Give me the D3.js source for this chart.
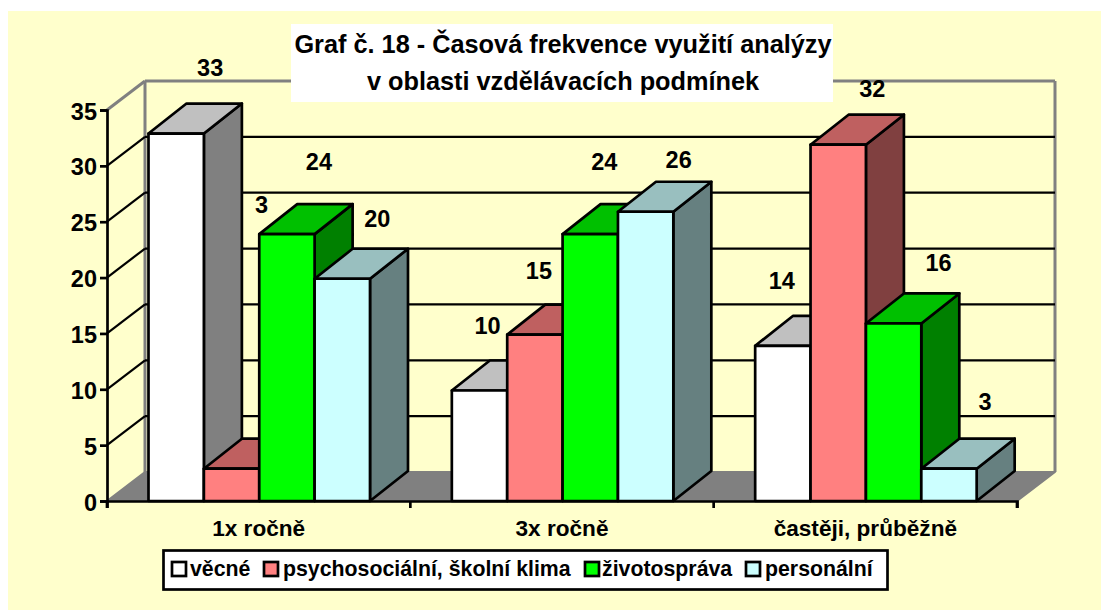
<!DOCTYPE html>
<html><head><meta charset="utf-8">
<script src="https://cdn.jsdelivr.net/npm/d3@7"></script>
<style>html,body{margin:0;padding:0;background:#fff}svg{display:block}text{font-family:"Liberation Sans",Arial,sans-serif;font-weight:bold;fill:#000}</style>
</head><body><svg id="c" width="1101" height="610"></svg>
<script>
const categories = ["1x ročně", "3x ročně", "častěji, průběžně"];
const seriesNames = ["věcné", "psychosociální, školní klima", "životospráva", "personální"];
const vecne = [33, 10, 14];
const psychosocialni = [3, 15, 32];
const zivotosprava = [24, 24, 16];
const personalni = [20, 26, 3];
const seriesValues = [vecne, psychosocialni, zivotosprava, personalni];
const yTicks = [0, 5, 10, 15, 20, 25, 30, 35];
const titleLines = ["Graf č. 18 - Časová frekvence využití analýzy", "v oblasti vzdělávacích podmínek"];

// styling
const faceColors = [
  {front:"#ffffff", top:"#c0c0c0", side:"#808080"},
  {front:"#ff8080", top:"#bf6060", side:"#804040"},
  {front:"#00ff00", top:"#00c000", side:"#008000"},
  {front:"#ccffff", top:"#99bfbf", side:"#668080"}
];
// hand-placed data label centres in the source: offset from the bar's front-top-centre
const labelNudge = [
  [[34,-64],[30,-262],[32,-71],[35,-59]],
  [[8,-63],[4,-62],[14,-71],[33,-51]],
  [[-1,-64],[34,-55],[45,-59],[36,-65]]
];

const svg = d3.select("#c");
const X0=107, X1=1017, Y0=501, Y35=110, DX=38, DY=-29, BAR_DY=-30;
const y = d3.scaleLinear().domain([0,35]).range([Y0,Y35]);
const x = d3.scaleBand().domain(categories).range([X0,X1]);
const barInner = d3.scaleBand().domain(d3.range(4)).range([41.5,263]);

const poly = (pts,fill,stroke,sw)=>svg.append("polygon").attr("points",pts.map(p=>p.join(",")).join(" "))
  .attr("fill",fill).attr("stroke",stroke||"none").attr("stroke-width",sw||0).attr("stroke-linejoin","round");
const line = (a,b,c,sw)=>svg.append("line").attr("x1",a[0]).attr("y1",a[1]).attr("x2",b[0]).attr("y2",b[1]).attr("stroke",c).attr("stroke-width",sw);

// background
svg.append("rect").attr("x",8).attr("y",11).attr("width",1093).attr("height",599).attr("fill","#ffffcc");

// walls
poly([[X0,Y0],[X0+DX,Y0+DY],[X1+DX,Y0+DY],[X1,Y0]],"#808080","#808080",2);
line([X0+DX,Y0+DY],[X0+DX,Y35+DY],"#808080",3);
line([X0+DX,Y35+DY],[X1+DX,Y35+DY],"#808080",3);
line([X1+DX,Y0+DY],[X1+DX,Y35+DY],"#808080",3);
line([X0,Y35],[X0+DX,Y35+DY],"#808080",3);

// gridlines
yTicks.slice(1,-1).forEach(t=>{
  line([X0,y(t)],[X0+DX,y(t)+DY],"#000",2.2);
  line([X0+DX,y(t)+DY],[X1+DX,y(t)+DY],"#000",2.2);
});

// bars
categories.forEach((cat,ci)=>{
  seriesValues.forEach((vals,si)=>{
    const v=vals[ci], l=x(cat)+barInner(si), r=l+barInner.bandwidth(), t=y(v)+1.2, b=Y0, c=faceColors[si];
    poly([[r,b],[r+DX,b+BAR_DY],[r+DX,t+BAR_DY],[r,t]],c.side,"#000",2.7);
    poly([[l,t],[l+DX,t+BAR_DY],[r+DX,t+BAR_DY],[r,t]],c.top,"#000",2.7);
    poly([[l,b],[l,t],[r,t],[r,b]],c.front,"#000",2.7);
  });
});

// axes
const yAxisG = svg.append("g").attr("transform",`translate(${X0},0)`)
  .call(d3.axisLeft(y).tickValues(yTicks).tickSize(7).tickPadding(3));
const xAxisG = svg.append("g").attr("transform",`translate(0,${Y0})`)
  .call(d3.axisBottom(x).tickSize(7).tickPadding(12).tickSizeOuter(7));
[yAxisG,xAxisG].forEach(g=>{
  g.selectAll(".domain,.tick line").attr("stroke","#000").attr("stroke-width",2.7);
  g.selectAll("text").style("font-family",'"Liberation Sans",Arial,sans-serif').style("font-weight","bold").style("font-size","23.5px").attr("fill","#000");
});
yAxisG.selectAll("text").attr("y",1.5);
// category boundary ticks
xAxisG.selectAll(".tick line").remove();
[0,1,2,3].forEach(i=>{ const px=i<3?x(categories[i]):X1; line([px,Y0],[px,Y0+7],"#000",2.7); });
xAxisG.selectAll("text").style("font-size","22.6px");

// data labels
categories.forEach((cat,ci)=>{
  seriesValues.forEach((vals,si)=>{
    const cx=x(cat)+barInner(si)+barInner.bandwidth()/2, n=labelNudge[ci][si];
    svg.append("text").attr("x",cx+n[0]).attr("y",y(vals[ci])+n[1]).attr("text-anchor","middle")
      .attr("dominant-baseline","central").style("font-size","23.5px").text(vals[ci]);
  });
});

// title
svg.append("rect").attr("x",291).attr("y",24).attr("width",542).attr("height",78).attr("fill","#fff");
titleLines.forEach((s,i)=>svg.append("text").attr("x",563).attr("y",53+i*37).attr("text-anchor","middle")
  .style("font-size","25.3px").text(s));

// legend
svg.append("rect").attr("x",163.5).attr("y",550.5).attr("width",724).attr("height",39).attr("fill","#fff").attr("stroke","#000").attr("stroke-width",2.7);
const swatchX=[172,264,585,746], textX=[190,283,602,765];
seriesNames.forEach((s,i)=>{
  svg.append("rect").attr("x",swatchX[i]).attr("y",562).attr("width",14).attr("height",14).attr("fill",faceColors[i].front).attr("stroke","#000").attr("stroke-width",2.7);
  svg.append("text").attr("x",textX[i]).attr("y",576).style("font-size","21.3px").text(s);
});
</script></body></html>
